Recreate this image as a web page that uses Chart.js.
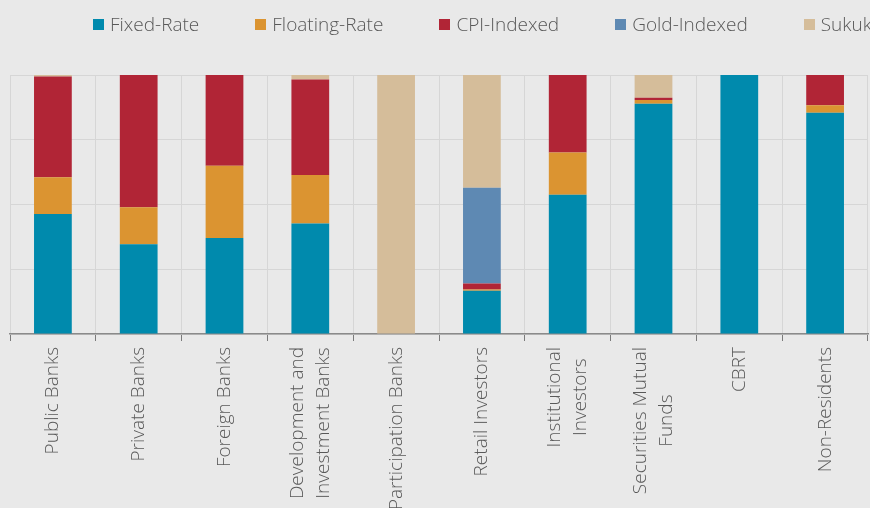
<!DOCTYPE html>
<html>
<head>
<meta charset="utf-8">
<script src="https://cdn.jsdelivr.net/npm/chart.js"></script>
<style>
  html, body { margin: 0; padding: 0; background: #e9e9e9; overflow: hidden; }
  #wrap { position: relative; width: 870px; height: 508px; overflow: hidden; }
  #legend { position: absolute; top: 11px; left: 93px; display: flex; gap: 56px; white-space: nowrap;
            font-family: "Open Sans", sans-serif; font-weight: 300; font-size: 19px; color: #595959; }
  #legend span.item { display: flex; align-items: center; }
  #legend span.box { width: 11px; height: 11px; margin-right: 6px; display: inline-block; }
</style>
</head>
<body>
<div id="wrap">
  <canvas id="holders"></canvas>
  <div id="legend"></div>
</div>
<script>
// categories (multi-line labels as arrays)
const categories = [
  'Public Banks', 'Private Banks', 'Foreign Banks',
  ['Development and', 'Investment Banks'], 'Participation Banks',
  'Retail Investors', ['Institutional', 'Investors'],
  ['Securities Mutual', 'Funds'], 'CBRT', 'Non-Residents'
];

// shares, % of each holder group
const fixedRate    = [46.3, 34.7, 37.1, 42.7, 0,   16.7, 53.8, 88.9, 100, 85.4];
const floatingRate = [14.2, 14.2, 27.9, 18.7, 0,    0.5, 16.3,  1.4,   0,  2.9];
const cpiIndexed   = [38.9, 51.1, 35.0, 36.9, 0,    2.3, 29.9,  0.9,   0, 11.7];
const goldIndexed  = [0,    0,    0,    0,    0,   37.0,  0,    0,     0,  0];
const sukuk        = [0.6,  0,    0,    1.7, 100,  43.5,  0,    8.8,   0,  0];

const seriesNames  = ['Fixed-Rate', 'Floating-Rate', 'CPI-Indexed', 'Gold-Indexed', 'Sukuk'];
const seriesColors = ['#008aad', '#db9431', '#b12536', '#5e89b3', '#d5bd9a'];
const yTicks = [0, 25, 50, 75, 100];

const seriesData = [fixedRate, floatingRate, cpiIndexed, goldIndexed, sukuk];

// html legend
const legendEl = document.getElementById('legend');
seriesNames.forEach((name, i) => {
  const item = document.createElement('span');
  item.className = 'item';
  const box = document.createElement('span');
  box.className = 'box';
  box.style.background = seriesColors[i];
  item.appendChild(box);
  item.appendChild(document.createTextNode(name));
  legendEl.appendChild(item);
});

// rotated multi-line labels: center the block on the category and the lines on each other
const centerLabels = {
  id: 'centerLabels',
  beforeDraw(chart) {
    const ctx = chart.ctx;
    chart.scales.x.getLabelItems().forEach(item => {
      if (!Array.isArray(item.label) || item._centered) return;
      const n = item.label.length;
      const lh = item.font.lineHeight;
      ctx.save();
      ctx.font = item.font.string;
      const w = Math.max(...item.label.map(s => ctx.measureText(s).width));
      ctx.restore();
      const t = item.options.translation;
      item.options.translation = [t[0] - (n - 1) * lh / 2, t[1] + w / 2];
      item.options.textAlign = 'center';
      item._centered = true;
    });
  }
};

new Chart('holders', {
  type: 'bar',
  data: {
    labels: categories,
    datasets: seriesNames.map((name, i) => ({
      label: name,
      data: seriesData[i],
      backgroundColor: seriesColors[i],
      borderWidth: 0,
      barPercentage: 0.44,
      categoryPercentage: 1.0
    }))
  },
  options: {
    responsive: true,
    maintainAspectRatio: false,
    animation: false,
    layout: { padding: { top: 75, left: 10, right: 2, bottom: 0 } },
    plugins: { legend: { display: false }, tooltip: { enabled: false } },
    scales: {
      x: {
        stacked: true,
        grid: { color: '#d6d6d6', lineWidth: 1, tickColor: '#7a7a7a', tickLength: 7, offset: true },
        border: { color: '#8a8a8a', width: 1.5 },
        ticks: {
          autoSkip: false, minRotation: 90, maxRotation: 90, padding: 6,
          color: '#595959',
          font: { family: 'Open Sans', weight: '300', size: 19, lineHeight: 1.35 }
        },
        afterFit: (scale) => { scale.height = 174; }
      },
      y: {
        stacked: true,
        min: 0, max: 100,
        afterBuildTicks: (scale) => { scale.ticks = yTicks.map(v => ({ value: v })); },
        grid: { color: '#d6d6d6', lineWidth: 1, drawTicks: false },
        border: { display: false },
        ticks: { display: false }
      }
    }
  },
  plugins: [centerLabels]
});
</script>
</body>
</html>
